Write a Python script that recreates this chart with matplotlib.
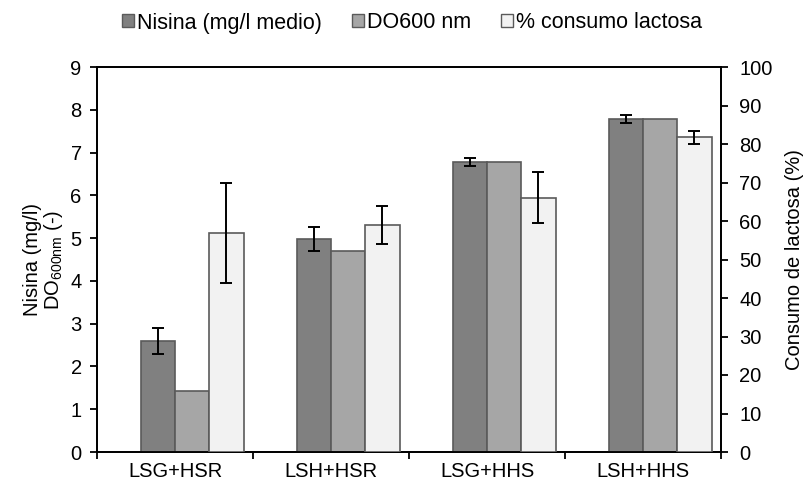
import matplotlib
matplotlib.use("Agg")
import matplotlib.pyplot as plt
import numpy as np
from matplotlib.patches import Patch

plt.rcParams["font.family"] = ["Liberation Sans", "DejaVu Sans"]
plt.rcParams["mathtext.default"] = "regular"

# ── Data ─────────────────────────────────────────────────────────────
categories = ["LSG+HSR", "LSH+HSR", "LSG+HHS", "LSH+HHS"]
nisina = [2.60, 4.98, 6.78, 7.78]
nisina_err = [0.30, 0.29, 0.10, 0.10]
do600 = [1.43, 4.70, 6.78, 7.78]
lactosa = [56.8, 59.0, 66.1, 81.8]
lactosa_err = [13.0, 4.9, 6.6, 1.7]

c_nis = "#808080"
c_do = "#A6A6A6"
c_lac = "#F2F2F2"
c_edge = "#5A5A5A"
fs = 14.5

fig = plt.figure(figsize=(8.06, 4.88), dpi=100)
ax = fig.add_axes([97 / 806, 1 - 452 / 488, 624 / 806, 385 / 488])
ax2 = ax.twinx()

x = np.arange(len(categories)) + 0.5
w = 0.22
err_kw = dict(ecolor="black", elinewidth=1.4, capsize=4.5, capthick=1.4)

ax.bar(x - w / 2, nisina, w, color=c_nis, edgecolor=c_edge, linewidth=1.2,
       yerr=nisina_err, error_kw=err_kw, zorder=3)
ax.bar(x + w / 2, do600, w, color=c_do, edgecolor=c_edge, linewidth=1.2, zorder=3)
ax2.bar(x + 1.5 * w, lactosa, w, color=c_lac, edgecolor=c_edge, linewidth=1.2,
        yerr=lactosa_err, error_kw=err_kw, zorder=3)

ax.set_xlim(0, len(categories))
ax.set_ylim(0, 9)
ax.set_yticks(range(0, 10))
ax2.set_ylim(0, 100)
ax2.set_yticks(range(0, 101, 10))

ax.set_xticks(np.arange(len(categories) + 1))
ax.set_xticklabels([])
ax.set_xticks(x, minor=True)
ax.set_xticklabels(categories, minor=True)
ax.tick_params(axis="x", which="minor", length=0, pad=7, labelsize=fs)
ax.tick_params(axis="x", which="major", length=5, width=1.3, direction="out")
ax.tick_params(axis="y", length=5, width=1.3, direction="out", labelsize=fs, pad=6)
ax2.tick_params(axis="y", length=5, width=1.3, direction="out", labelsize=fs, pad=8)

for a in (ax, ax2):
    for s in a.spines.values():
        s.set_linewidth(1.3)
        s.set_color("black")

ax.set_ylabel("Nisina (mg/l)\nDO$_{600nm}$ (-)", fontsize=fs, linespacing=1.0,
              labelpad=4)
ax2.set_ylabel("Consumo de lactosa (%)", fontsize=fs, labelpad=9)

handles = [
    Patch(facecolor=c_nis, edgecolor=c_edge, label="Nisina (mg/l medio)"),
    Patch(facecolor=c_do, edgecolor=c_edge, label="DO600 nm"),
    Patch(facecolor=c_lac, edgecolor=c_edge, label="% consumo lactosa"),
]
fig.legend(handles=handles, loc="center", bbox_to_anchor=(412 / 806, 1 - 23 / 488),
           ncol=3, frameon=False, fontsize=15.5, handlelength=0.55,
           handleheight=0.55, handletextpad=0.15, columnspacing=1.4)

fig.savefig("out.png", dpi=100, facecolor="white")
